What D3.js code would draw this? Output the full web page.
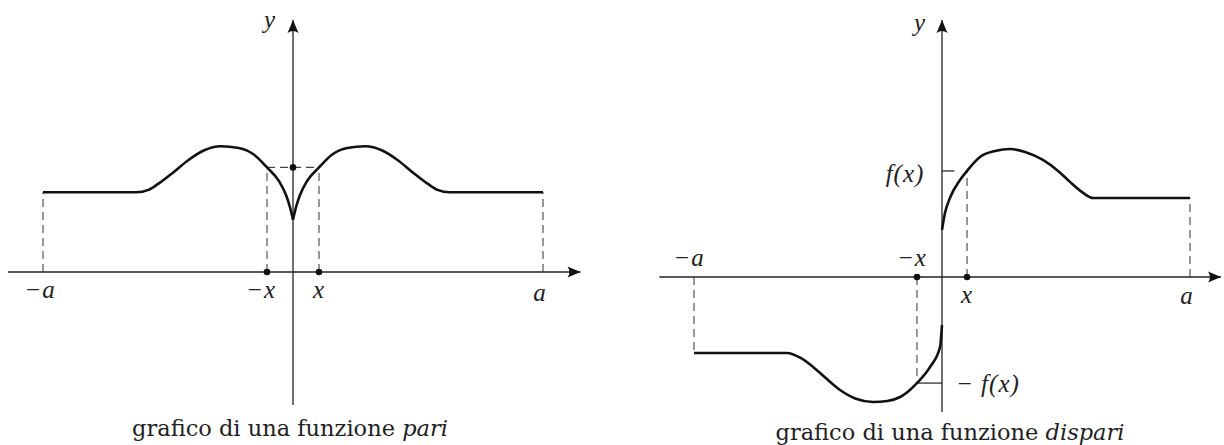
<!DOCTYPE html>
<html>
<head>
<meta charset="utf-8">
<script src="https://cdn.jsdelivr.net/npm/d3@7"></script>
<style>
  body { margin: 0; background: #fff; }
  svg text { fill: #222; }
  .math { font-family: "Liberation Serif", serif; font-style: italic; font-size: 25px; letter-spacing: 1px; }
  .cap { font-family: "DejaVu Serif", serif; font-size: 22.5px; }
</style>
</head>
<body>
<script>
// values (a = 10)
const pariX  = [-10, -6.27, -5.78, -5.38, -4.78, -4.18, -3.57, -2.89, -2.17, -1.57, -1.04, -0.56, -0.28, -0.12, 0,
                0.12, 0.28, 0.56, 1.04, 1.57, 2.17, 2.89, 3.57, 4.18, 4.78, 5.38, 5.78, 6.27, 10]
const pariY  = [3.2, 3.2, 3.3, 3.55, 4.01, 4.5, 4.88, 5.05, 4.98, 4.72, 4.2, 3.65, 3.09, 2.6, 2.1,
                2.6, 3.09, 3.65, 4.2, 4.72, 4.98, 5.05, 4.88, 4.5, 4.01, 3.55, 3.3, 3.2, 3.2]

const dispNegX = [-10, -6.25, -5.7, -5.2, -4.7, -4.11, -3.5, -2.78, -2.2, -1.69, -1.01, -0.48, -0.08, 0]
const dispNegY = [-3.05, -3.05, -3.25, -3.61, -4.05, -4.54, -4.88, -5.02, -4.98, -4.82, -4.26, -3.61, -2.81, -1.93]
const dispPosX = [0, 0.12, 0.32, 0.73, 1.01, 1.53, 2.14, 2.74, 3.35, 4.07, 4.68, 5.16, 5.65, 6.09, 10]
const dispPosY = [1.89, 2.57, 3.17, 3.9, 4.26, 4.82, 5.06, 5.14, 5.02, 4.7, 4.26, 3.82, 3.41, 3.17, 3.17]

const pariTicks = ["\u2212a", "\u2212x", "x", "a"]
const pariTickAt = [-10, -1.04, 1.04, 10]
const dispTicks = ["\u2212a", "\u2212x", "x", "a"]
const dispTickAt = [-10, -1.01, 1.01, 10]
const captions = ["grafico di una funzione ", "grafico di una funzione "]
const captionItalic = ["pari", "dispari"]

const width = 1224, height = 445

const svg = d3.select("body").append("svg")
  .attr("width", width).attr("height", height)

const defs = svg.append("defs")
defs.append("marker")
  .attr("id", "arr")
  .attr("markerUnits", "userSpaceOnUse")
  .attr("markerWidth", 20).attr("markerHeight", 20)
  .attr("refX", 14).attr("refY", 10)
  .attr("orient", "auto")
  .append("path")
  .attr("d", "M14,10 L1,4.5 Q5,10 1,15.5 Z")
  .attr("fill", "#111")

function panel(o) {
  const x = d3.scaleLinear().domain([-10, 10]).range(o.xr)
  const y = d3.scaleLinear().domain([0, 10]).range([o.y0, o.y0 - 249])
  const g = svg.append("g")

  // axes
  g.append("line")
    .attr("x1", x(o.xAxis[0])).attr("x2", x(o.xAxis[1]))
    .attr("y1", y(0)).attr("y2", y(0))
    .attr("stroke", "#222").attr("stroke-width", 1.3)
    .attr("marker-end", "url(#arr)")
  g.append("line")
    .attr("x1", x(0)).attr("x2", x(0))
    .attr("y1", o.yBottom).attr("y2", 20)
    .attr("stroke", "#222").attr("stroke-width", 1.3)
    .attr("marker-end", "url(#arr)")

  // dashed guides
  g.selectAll(".dash").data(o.dashes).join("line")
    .attr("x1", d => x(d[0])).attr("y1", d => y(d[1]))
    .attr("x2", d => x(d[2])).attr("y2", d => y(d[3]))
    .attr("stroke", "#444").attr("stroke-width", 1.1)
    .attr("stroke-dasharray", "8,5")

  // solid small ticks
  g.selectAll(".tk").data(o.ticks || []).join("line")
    .attr("x1", d => x(d[0])).attr("y1", d => y(d[1]))
    .attr("x2", d => x(d[2])).attr("y2", d => y(d[3]))
    .attr("stroke", "#222").attr("stroke-width", 1.2)

  // curves
  const line = d3.line().x(d => x(d[0])).y(d => y(d[1])).curve(d3.curveMonotoneX)
  o.curves.forEach(c => {
    g.append("path").attr("d", line(c))
      .attr("fill", "none").attr("stroke", "#111").attr("stroke-width", 2.6)
  })

  // dots
  g.selectAll("circle").data(o.dots).join("circle")
    .attr("cx", d => x(d[0])).attr("cy", d => y(d[1])).attr("r", 3.3)
    .attr("fill", "#111")

  // labels
  o.labels.forEach(l => {
    g.append("text").attr("class", "math")
      .attr("x", x(l[1]) + (l[3] || 0)).attr("y", l[2])
      .attr("text-anchor", "middle")
      .text(l[0])
  })
  return { x, y, g }
}

// even function
const pL = pariX.map((v, i) => [v, pariY[i]]).filter(d => d[0] <= 0)
const pR = pariX.map((v, i) => [v, pariY[i]]).filter(d => d[0] >= 0)
const fP = pariY[pariX.indexOf(1.04)]
const left = panel({
  xr: [43, 543], y0: 272, xAxis: [-11.4, 11.5], yBottom: 405,
  curves: [pL, pR],
  dashes: [[-10, 0, -10, pariY[0]], [10, 0, 10, pariY[pariY.length - 1]],
           [-1.04, 0, -1.04, fP], [1.04, 0, 1.04, fP], [-1.04, fP, 1.04, fP]],
  dots: [[-1.04, 0], [1.04, 0], [0, fP]],
  labels: [[pariTicks[0], pariTickAt[0], 298, -3], [pariTicks[1], pariTickAt[1], 298, -6],
           [pariTicks[2], pariTickAt[2], 298, 0], [pariTicks[3], pariTickAt[3], 301, -3],
           ["y", 0, 28, -23]]
})

// odd function
const dN = dispNegX.map((v, i) => [v, dispNegY[i]])
const dP = dispPosX.map((v, i) => [v, dispPosY[i]])
const fD = dispPosY[dispPosX.indexOf(1.01)]
const right = panel({
  xr: [694, 1190], y0: 277, xAxis: [-11.4, 11.25], yBottom: 412,
  curves: [dN, dP],
  dashes: [[-10, 0, -10, dispNegY[0]], [10, 0, 10, dispPosY[dispPosY.length - 1]],
           [-1.01, 0, -1.01, -fD], [1.01, 0, 1.01, fD]],
  ticks: [[0, fD, 0.5, fD], [-1.01, -fD, 0, -fD]],
  dots: [[-1.01, 0], [1.01, 0]],
  labels: [[dispTicks[0], dispTickAt[0], 266, -5], [dispTicks[1], dispTickAt[1], 266, -5],
           [dispTicks[2], dispTickAt[2], 303, 0], [dispTicks[3], dispTickAt[3], 304, -3],
           ["y", 0, 31, -22], ["f(x)", 0, 182, -37]]
})
right.g.append("text").attr("class", "math")
  .attr("x", right.x(0) + 14).attr("y", right.y(-fD) + 9)
  .text("\u2212 f(x)")

// captions
const capX = [290, 950], capY = [436, 440]
captions.forEach((c, i) => {
  const t = svg.append("text").attr("class", "cap")
    .attr("x", capX[i]).attr("y", capY[i]).attr("text-anchor", "middle")
  t.append("tspan").text(c)
  t.append("tspan").attr("font-style", "italic").text(captionItalic[i])
})
</script>
</body>
</html>
